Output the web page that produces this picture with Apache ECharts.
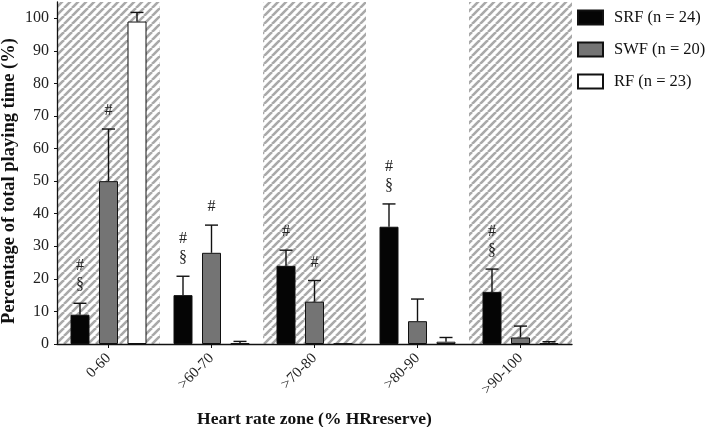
<!DOCTYPE html>
<html>
<head>
<meta charset="utf-8">
<script src="https://cdn.jsdelivr.net/npm/echarts@6/dist/echarts.min.js"></script>
<style>
  html, body { margin: 0; padding: 0; background: #fff; }
  #chart { width: 709px; height: 427px; }
</style>
</head>
<body>
<div id="chart"></div>
<script>
const zones = ['0-60', '>60-70', '>70-80', '>80-90', '>90-100']
const hatchedZones = [true, false, true, false, true]

const groupNames = ['SRF (n = 24)', 'SWF (n = 20)', 'RF (n = 23)']
const srfMeans = [9, 15, 24, 36, 16]
const srfSD = [3.5, 5.8, 4.8, 7, 7]
const swfMeans = [50, 28, 13, 7, 2]
const swfSD = [16, 8.5, 6.5, 6.8, 3.5]
const rfMeans = [99, 0.2, 0.1, 0.7, 0.2]
const rfSD = [2.8, 0.6, 0, 1.3, 0.5]

// significance marks, top line first
const srfMarks = [['#', '§'], ['#', '§'], ['#'], ['#', '§'], ['#', '§']]
const swfMarks = [['#'], ['#'], ['#'], [], []]
const rfMarks = [[], [], [], [], []]

const yTicks = [0, 10, 20, 30, 40, 50, 60, 70, 80, 90, 100]
const yMax = 105

const serif = '"Liberation Serif", "DejaVu Serif", serif'
const barColors = ['#050505', '#747474', '#ffffff']
const barW = 19
const barGapPx = 9.5

const makeHatch = () => {
  const c = document.createElement('canvas')
  c.width = 8
  c.height = 8
  const ctx = c.getContext('2d')
  ctx.fillStyle = '#ffffff'
  ctx.fillRect(0, 0, 8, 8)
  ctx.strokeStyle = '#a9a9a9'
  ctx.lineWidth = 2.6
  for (const o of [-8, 0, 8]) {
    ctx.beginPath()
    ctx.moveTo(o, 8)
    ctx.lineTo(o + 8, 0)
    ctx.stroke()
  }
  return c
}

const means = [srfMeans, swfMeans, rfMeans]
const sds = [srfSD, swfSD, rfSD]
const marks = [srfMarks, swfMarks, rfMarks]

const errData = []
means.forEach((arr, g) => {
  arr.forEach((v, i) => {
    errData.push([i, g, v, sds[g][i], marks[g][i].join('|')])
  })
})

const renderErr = (params, api) => {
  const cat = api.value(0)
  const g = api.value(1)
  const mean = api.value(2)
  const sd = api.value(3)
  const markStr = errData[params.dataIndex][4]
  const cx = api.coord([cat, 0])[0] + (g - 1) * (barW + barGapPx)
  const yTop = api.coord([cat, mean])[1]
  const yErr = api.coord([cat, mean + sd])[1]
  const children = []
  if (sd > 0) {
    children.push({
      type: 'line',
      shape: { x1: cx, y1: yTop, x2: cx, y2: yErr },
      style: { stroke: '#111', lineWidth: 1.4 }
    })
    children.push({
      type: 'line',
      shape: { x1: cx - 6.5, y1: yErr, x2: cx + 6.5, y2: yErr },
      style: { stroke: '#111', lineWidth: 1.4 }
    })
  }
  const lines = markStr ? markStr.split('|') : []
  lines.forEach((t, k) => {
    const fromBottom = lines.length - 1 - k
    children.push({
      type: 'text',
      style: {
        text: t,
        x: cx,
        y: yErr - 18 - fromBottom * 19,
        align: 'center',
        verticalAlign: 'middle',
        font: '16px ' + serif,
        fill: '#222'
      }
    })
  })
  return { type: 'group', children }
}

const chart = echarts.init(document.getElementById('chart'))

chart.setOption({
  animation: false,
  backgroundColor: '#fff',
  grid: { left: 57, right: 137, top: 2, bottom: 83, outerBoundsMode: 'none', containLabel: false },
  legend: {
    data: groupNames,
    orient: 'vertical',
    left: 577,
    top: 9,
    padding: 0,
    itemWidth: 25,
    itemHeight: 14,
    itemGap: 15,
    icon: 'rect',
    textStyle: { fontFamily: serif, fontSize: 16.5, color: '#111', padding: [0, 0, 0, 6] }
  },
  xAxis: [
    {
      type: 'category',
      data: zones,
      z: 5,
      axisLine: { lineStyle: { color: '#111', width: 1.3 } },
      axisTick: { show: true, alignWithLabel: true, length: 4, lineStyle: { color: '#111' } },
      axisLabel: { rotate: 45, fontFamily: serif, fontSize: 15, color: '#222', margin: 12 },
      name: 'Heart rate zone (% HRreserve)',
      nameLocation: 'middle',
      nameGap: 66,
      nameMoveOverlap: false,
      nameTextStyle: { fontFamily: serif, fontSize: 17.5, fontWeight: 'bold', color: '#111' }
    },
    { type: 'category', data: zones, show: false }
  ],
  yAxis: {
    type: 'value',
    min: 0,
    max: yMax,
    z: 5,
    axisLine: { show: true, lineStyle: { color: '#111', width: 1.3 } },
    axisTick: { show: true, customValues: yTicks, length: 3, lineStyle: { color: '#111' } },
    splitLine: { show: false },
    axisLabel: { customValues: yTicks, fontFamily: serif, fontSize: 16, color: '#222', margin: 8 },
    name: 'Percentage of total playing time (%)',
    nameLocation: 'middle',
    nameGap: 38,
    nameMoveOverlap: false,
    nameTextStyle: { fontFamily: serif, fontSize: 18.5, fontWeight: 'bold', color: '#111', padding: [0, 16, 0, 0] }
  },
  series: [
    {
      name: 'zones',
      type: 'bar',
      xAxisIndex: 1,
      barWidth: '100%',
      silent: true,
      z: 1,
      itemStyle: { color: { image: makeHatch(), repeat: 'repeat' } },
      data: hatchedZones.map(h => (h ? yMax : '-'))
    },
    ...groupNames.map((name, g) => ({
      name,
      type: 'bar',
      barWidth: barW,
      barGap: '50%',
      z: 3,
      itemStyle: { color: barColors[g], borderColor: '#111', borderWidth: 1 },
      data: means[g]
    })),
    {
      type: 'custom',
      z: 4,
      silent: true,
      renderItem: renderErr,
      data: errData.map(d => d.slice(0, 4))
    }
  ]
})
</script>
</body>
</html>
